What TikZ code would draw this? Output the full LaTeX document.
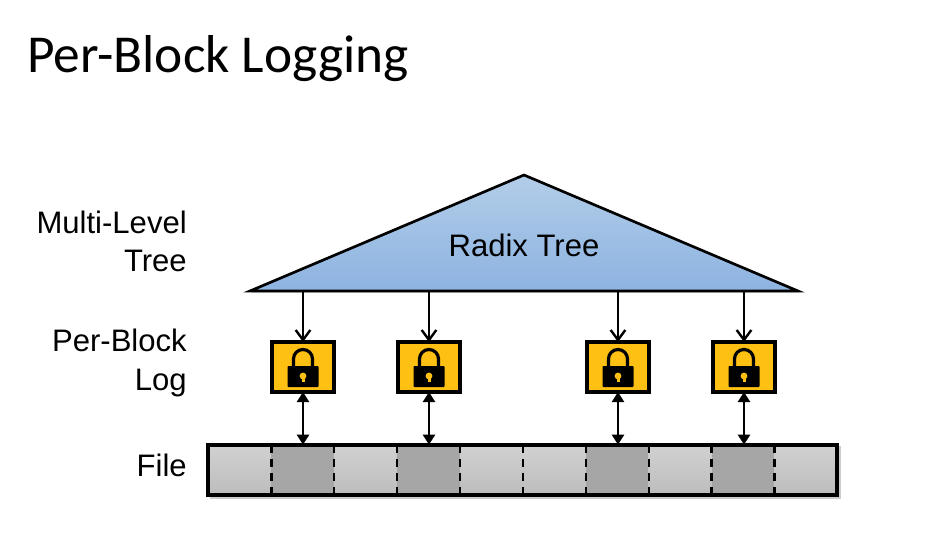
\documentclass[tikz,border=0pt]{standalone}
\usepackage{fontspec}
\setmainfont{Liberation Sans}
\newfontfamily\titlefont{Carlito}
\usetikzlibrary{arrows.meta,shadows,calc}
\definecolor{lockgold}{HTML}{FFC014}
\definecolor{treetop}{RGB}{178,205,232}
\definecolor{treebot}{RGB}{141,179,225}
\tikzset{
  softshadow/.style={drop shadow={shadow xshift=1.2pt,shadow yshift=-1.2pt,opacity=.22,fill=black}},
  lbl/.style={font=\fontsize{23.3}{28.7}\selectfont,align=right,anchor=east,inner sep=0pt},
  logbox/.style={draw,line width=3pt,fill=lockgold,minimum width=46.5pt,minimum height=37.5pt,inner sep=0pt,outer sep=0pt,softshadow},
  lightcell/.style={minimum width=47.2pt,minimum height=38pt,inner sep=0pt,outer sep=0pt,top color=black!18,bottom color=black!26},
  darkcell/.style={minimum width=47.2pt,minimum height=38pt,inner sep=0pt,outer sep=0pt,fill=black!35},
  treearrow/.style={-{Straight Barb[length=7.5pt,width=11pt,line width=1.8pt]},line width=1.8pt},
  filearrow/.style={{Triangle[length=7.5pt,width=9pt]}-{Triangle[length=7.5pt,width=9pt]},line width=1.8pt},
  sep/.style={dash pattern=on 6.2pt off 4.5pt,line width=1.8pt}
}
% lock symbol, centred on a log box
\newcommand{\lockicon}[1]{
  \draw[line width=2.4pt] ($(#1)+(-9.5,1)$) -- ++(0,-9) arc[start angle=180,end angle=360,radius=9.5] -- ++(0,9);
  \fill[rounded corners=.6pt] ($(#1)+(-15.5,-1)$) rectangle ($(#1)+(15.5,20)$);
  \fill[lockgold] ($(#1)+(0,9)$) circle[radius=3.4];
  \fill[lockgold] ($(#1)+(-1.5,9)$) rectangle ($(#1)+(1.5,15)$);
}
\begin{document}
\begin{tikzpicture}[x=.75pt,y=-.75pt]
  \useasboundingbox (0,0) rectangle (925,551);

  \node[font=\titlefont\fontsize{40}{44}\selectfont,anchor=base west,inner sep=0pt] (title) at (27,72) {Per-Block Logging};

  % tree
  \coordinate (apex) at (524,175);
  \coordinate (baseL) at (250,291);
  \coordinate (baseR) at (798,291);
  \draw[line width=2pt,line join=miter,top color=treetop,bottom color=treebot,softshadow]
    (apex) -- (baseR) -- (baseL) -- cycle;
  \node[font=\fontsize{23.3}{28}\selectfont,inner sep=0pt] (radix) at (524,245) {Radix Tree};

  \coordinate (t1) at (303,291);
  \coordinate (t2) at (429,291);
  \coordinate (t3) at (618,291);
  \coordinate (t4) at (744,291);

  % labels
  \node[lbl] (lbltree) at (187,241.5) {Multi-Level\\Tree};
  \node[lbl] (lbllog) at (187,363) {Per-Block\\Log};
  \node[lbl] (lblfile) at (187,465) {File};

  % logs
  \node[logbox] (l1) at (303,367) {};
  \node[logbox] (l2) at (429,367) {};
  \node[logbox] (l3) at (618,367) {};
  \node[logbox] (l4) at (744,367) {};
  \foreach \n in {l1,l2,l3,l4} {\lockicon{\n}}

  % file
  \fill[black,opacity=.2] (210,446) rectangle (841,499);
  \node[lightcell] (f1) at (239.9,470) {};
  \node[darkcell]  (f2) at (302.8,470) {};
  \node[lightcell] (f3) at (365.7,470) {};
  \node[darkcell]  (f4) at (428.6,470) {};
  \node[lightcell] (f5) at (491.5,470) {};
  \node[lightcell] (f6) at (554.4,470) {};
  \node[darkcell]  (f7) at (617.3,470) {};
  \node[lightcell] (f8) at (680.2,470) {};
  \node[darkcell]  (f9) at (743.1,470) {};
  \node[lightcell] (f10) at (806,470) {};
  \foreach \n in {1,...,9} {\draw[sep] (f\n.north east) -- (f\n.south east);}
  \draw[line width=3pt] (f1.north west) rectangle (f10.south east);

\path[treearrow]
    (t1) edge (l1.north -| t1)
    (t2) edge (l2.north -| t2)
    (t3) edge (l3.north -| t3)
    (t4) edge (l4.north -| t4)
;
\path[filearrow]
    (l1.south) edge (l1.south |- f2.north)
    (l2.south) edge (l2.south |- f4.north)
    (l3.south) edge (l3.south |- f7.north)
    (l4.south) edge (l4.south |- f9.north)
;
\end{tikzpicture}
\end{document}
